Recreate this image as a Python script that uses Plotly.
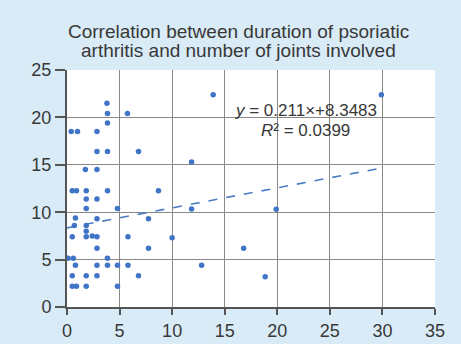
import plotly.graph_objects as go

# Data
duration_years = [
    0.4, 1.0, 0.5, 0.9, 0.8, 0.7, 0.5, 0.1, 0.6, 0.8, 0.5, 0.5, 0.9,
    1.75, 1.83, 1.83, 1.83, 1.83, 1.83, 1.83, 1.83, 1.83, 2.4,
    2.85, 2.85, 2.85, 2.85, 2.85, 2.85, 2.85, 2.85, 2.85,
    3.8, 3.85, 3.85, 3.85, 3.85, 3.85, 3.85,
    4.8, 4.8, 4.8,
    5.75, 5.8, 5.8,
    6.8, 6.8,
    7.75, 7.75,
    8.7, 10.0, 11.85, 11.85, 12.8, 13.9, 16.8, 18.85, 19.9, 29.9,
]
joints_involved = [
    18.5, 18.5, 12.25, 12.25, 9.4, 8.6, 7.4, 5.15, 5.15, 4.4, 3.3, 2.2, 2.2,
    14.5, 12.25, 11.4, 10.4, 8.6, 8.0, 7.4, 3.3, 2.2, 7.5,
    18.5, 16.4, 14.5, 11.4, 9.3, 7.4, 6.2, 4.4, 3.3,
    21.5, 20.4, 19.4, 16.4, 12.25, 5.15, 4.4,
    10.4, 4.4, 2.2,
    20.4, 7.4, 4.4,
    16.4, 3.3,
    9.3, 6.2,
    12.25, 7.3, 15.3, 10.35, 4.4, 22.4, 6.2, 3.2, 10.3, 22.4,
]
slope = 0.211
intercept = 8.3483
trend_x = [0, 30]
trend_y = [intercept + slope * v for v in trend_x]

x_ticks = [0, 5, 10, 15, 20, 25, 30, 35]
y_ticks = [0, 5, 10, 15, 20, 25]

title_lines = ["Correlation between duration of psoriatic",
               "arthritis and number of joints involved"]
eq_text = "<i>y</i> = 0.211×+8.3483"
r2_text = "<i>R</i>² = 0.0399"

marker_color = "#3f74c6"
text_color = "#383838"
font_family = "Liberation Sans, Arial, sans-serif"

fig = go.Figure()
fig.add_trace(go.Scatter(
    x=trend_x, y=trend_y, mode="lines",
    line=dict(color="#4a7cc4", width=1.6, dash="dash"),
    hoverinfo="skip", showlegend=False,
))
fig.add_trace(go.Scatter(
    x=duration_years, y=joints_involved, mode="markers",
    marker=dict(color=marker_color, size=5.5, symbol="circle"),
    showlegend=False,
))

annotations = [
    dict(text=title_lines[0], xref="paper", yref="paper", x=0.465, y=1.164,
         xanchor="center", yanchor="middle", showarrow=False,
         font=dict(size=19, color=text_color, family=font_family)),
    dict(text=title_lines[1], xref="paper", yref="paper", x=0.465, y=1.084,
         xanchor="center", yanchor="middle", showarrow=False,
         font=dict(size=19, color=text_color, family=font_family)),
    dict(text=eq_text, xref="paper", yref="paper", x=0.649, y=0.831,
         xanchor="center", yanchor="middle", showarrow=False,
         font=dict(size=17, color=text_color, family=font_family)),
    dict(text=r2_text, xref="paper", yref="paper", x=0.649, y=0.743,
         xanchor="center", yanchor="middle", showarrow=False,
         font=dict(size=17, color=text_color, family=font_family)),
]

fig.update_layout(
    width=461, height=344,
    margin=dict(l=67, r=26, t=70, b=37),
    paper_bgcolor="#d9ebf7",
    plot_bgcolor="#ffffff",
    font=dict(family=font_family, color=text_color, size=18),
    xaxis=dict(range=[0, 35], tickvals=x_ticks, showgrid=True, gridcolor="#888888", gridwidth=1.3,
               zeroline=False, showline=True, linecolor="#555555", linewidth=2,
               ticks="outside", ticklen=6, tickcolor="#555555", tickwidth=1.5,
               automargin=False, tickfont=dict(size=18, color=text_color)),
    yaxis=dict(range=[0, 25], tickvals=y_ticks, showgrid=True, gridcolor="#888888", gridwidth=1.3,
               zeroline=False, showline=True, linecolor="#555555", linewidth=2,
               ticks="outside", ticklen=10, tickcolor="#555555", tickwidth=1.5,
               automargin=False, tickfont=dict(size=18, color=text_color)),
    annotations=annotations,
)

fig.write_html("out.html")
